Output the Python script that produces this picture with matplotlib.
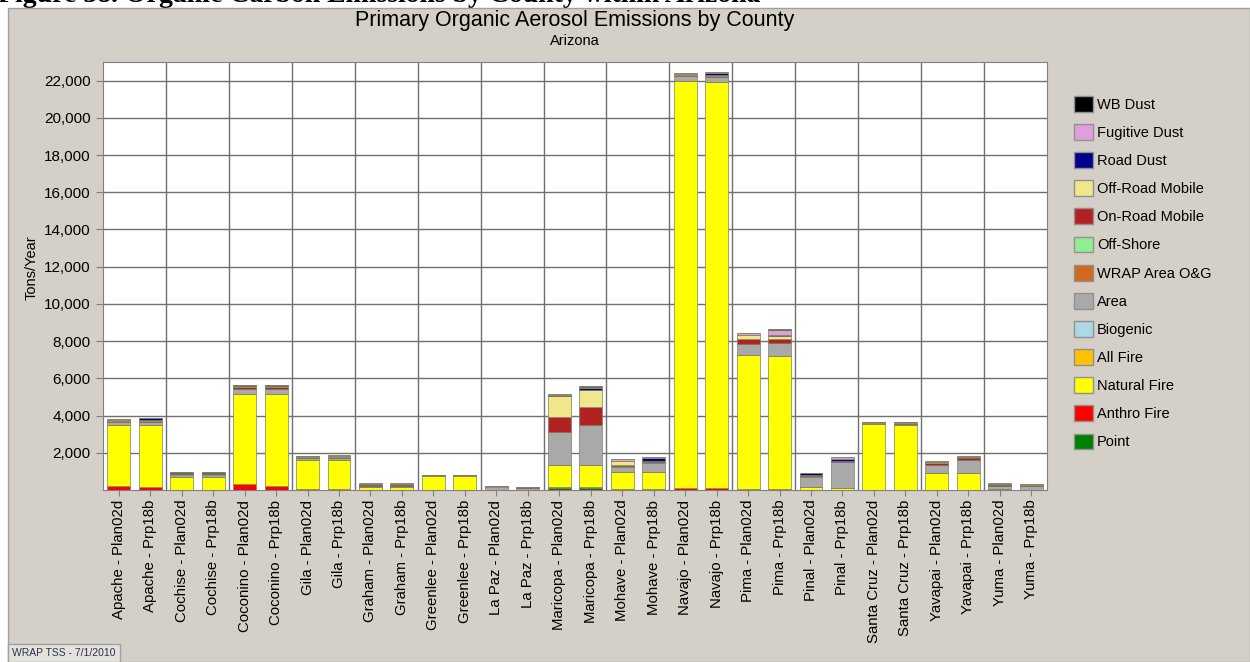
import matplotlib.pyplot as plt
import matplotlib.patches as mpatches
from matplotlib.ticker import FuncFormatter
import numpy as np

plt.rcParams['font.family'] = ['Liberation Sans', 'DejaVu Sans']

counties = ['Apache', 'Cochise', 'Coconino', 'Gila', 'Graham', 'Greenlee', 'La Paz',
            'Maricopa', 'Mohave', 'Navajo', 'Pima', 'Pinal', 'Santa Cruz', 'Yavapai', 'Yuma']
scenarios = ['Plan02d', 'Prp18b']
bar_labels = ['{} - {}'.format(c, s) for c in counties for s in scenarios]

# tons/year, two bars per county (Plan02d, Prp18b)
point = [0, 0, 0, 0, 0, 0, 0, 0, 0, 0, 0, 0, 0, 0, 100, 100,
         10, 10, 0, 0, 20, 20, 0, 0, 0, 0, 0, 0, 0, 0]
anthro_fire = [200, 150, 20, 20, 300, 200, 30, 30, 10, 10, 0, 0, 0, 0, 40, 40,
               20, 20, 100, 100, 40, 40, 20, 20, 20, 20, 20, 20, 10, 10]
natural_fire = [3300, 3350, 660, 660, 4860, 4960, 1580, 1580, 170, 170, 770, 770, 0, 0, 1220, 1220,
                920, 920, 21900, 21850, 7200, 7140, 150, 80, 3540, 3460, 880, 880, 40, 0]
all_fire = [0] * 30
biogenic = [0] * 30
area = [150, 170, 100, 100, 250, 250, 120, 120, 40, 40, 10, 10, 160, 130, 1740, 2130,
        300, 520, 250, 250, 570, 690, 550, 1420, 40, 40, 440, 710, 150, 200]
wrap_og = [10, 10, 10, 10, 20, 20, 10, 10, 5, 5, 0, 0, 0, 0, 20, 20,
           30, 30, 10, 10, 30, 30, 10, 10, 0, 0, 20, 20, 5, 5]
off_shore = [0] * 30
on_road = [60, 50, 40, 40, 120, 120, 50, 60, 40, 30, 10, 10, 20, 10, 790, 950,
           70, 80, 50, 50, 230, 170, 50, 30, 20, 100, 100, 80, 70, 40]
off_road = [40, 40, 20, 20, 50, 50, 20, 20, 10, 10, 5, 5, 10, 5, 1130, 940,
            200, 0, 40, 20, 240, 180, 20, 10, 10, 10, 30, 30, 20, 20]
road_dust = [20, 100, 60, 70, 20, 20, 10, 30, 50, 50, 0, 0, 0, 0, 80, 100,
             20, 150, 20, 150, 20, 40, 100, 80, 0, 20, 10, 20, 10, 0]
fugitive_dust = [20, 20, 20, 20, 30, 30, 10, 10, 50, 50, 0, 0, 30, 10, 40, 40,
                 80, 20, 50, 30, 100, 300, 20, 100, 0, 0, 80, 80, 80, 40]
wb_dust = [0, 0, 20, 20, 0, 0, 0, 0, 20, 20, 0, 0, 0, 0, 0, 40,
           0, 0, 0, 0, 0, 40, 20, 20, 0, 0, 0, 0, 0, 0]

# bottom to top
series = [
    ('Point', point, '#008000'),
    ('Anthro Fire', anthro_fire, '#ff0000'),
    ('Natural Fire', natural_fire, '#ffff00'),
    ('All Fire', all_fire, '#ffc000'),
    ('Biogenic', biogenic, '#add8e6'),
    ('Area', area, '#a9a9a9'),
    ('WRAP Area O&G', wrap_og, '#d2691e'),
    ('Off-Shore', off_shore, '#90ee90'),
    ('On-Road Mobile', on_road, '#b22222'),
    ('Off-Road Mobile', off_road, '#f0e68c'),
    ('Road Dust', road_dust, '#00008b'),
    ('Fugitive Dust', fugitive_dust, '#dda0dd'),
    ('WB Dust', wb_dust, '#000000'),
]

panel = '#d4d0c8'
fig = plt.figure(figsize=(12.5, 6.62), dpi=100)
fig.patch.set_facecolor('white')

# caption of the report page, mostly cut off at the top (as in the source screenshot)
fig.text(-2 / 1250, 1 - 2 / 662, 'Figure 38. Organic Carbon Emissions by County within Arizona',
         family=['Liberation Serif', 'DejaVu Serif'], fontweight='bold', fontsize=20,
         va='baseline', ha='left', color='black', zorder=0)
fig.patches.append(mpatches.Rectangle((8 / 1250, 0), 1 - 8 / 1250, 1 - 8 / 662,
                                      transform=fig.transFigure, facecolor=panel,
                                      edgecolor='#a0a0a0', linewidth=1, zorder=0.5))

ax = fig.add_axes([103 / 1250, 1 - 490 / 662, 944 / 1250, 428 / 662])
ax.set_zorder(2)
ax.set_facecolor('white')

x = np.arange(len(bar_labels))
bottom = np.zeros(len(bar_labels))
handles = []
for name, vals, color in series:
    vals = np.array(vals, dtype=float)
    ax.bar(x, vals, bottom=bottom, width=0.73, color=color,
           edgecolor='#808060', linewidth=0.5, zorder=3)
    bottom += vals
    handles.append(mpatches.Patch(facecolor=color, edgecolor='#909090', label=name))

ax.set_xlim(-0.5, len(bar_labels) - 0.5)
ax.set_ylim(0, 23000)
ax.set_yticks(np.arange(2000, 22001, 2000))
ax.yaxis.set_major_formatter(FuncFormatter(lambda v, p: '{:,.0f}'.format(v)))
ax.set_xticks(x)
ax.set_xticklabels(bar_labels, rotation=90, fontsize=10.8)
ax.tick_params(axis='y', labelsize=11, length=5, color='#808080', pad=4)
ax.tick_params(axis='x', length=4, color='#808080', pad=3)

# gridlines: horizontal at each tick, vertical between counties
for yv in np.arange(2000, 22001, 2000):
    ax.axhline(yv, color='#707070', linewidth=1, zorder=1)
for xv in np.arange(1.5, len(bar_labels) - 1, 2):
    ax.axvline(xv, color='#707070', linewidth=1, zorder=1)
for s in ax.spines.values():
    s.set_color('#808080')

ax.set_ylabel('Tons/Year', fontsize=10.5)
ax.yaxis.set_label_coords(-0.068, 0.52)
ax.set_title('Primary Organic Aerosol Emissions by County', fontsize=15.5, pad=26)
ax.text(0.5, 1.033, 'Arizona', transform=ax.transAxes, ha='center', va='bottom', fontsize=10.5)

leg = fig.legend(handles=handles[::-1], loc='upper left', bbox_to_anchor=(1068 / 1250, 1 - 90 / 662),
                 frameon=False, fontsize=10.5, handlelength=1.3, handleheight=1.3,
                 labelspacing=0.84, handletextpad=0.3, borderaxespad=0)
leg.set_zorder(3)

fig.text(12 / 1250, 4 / 662, 'WRAP TSS - 7/1/2010', fontsize=7.5, color='#303050',
         va='bottom', ha='left', zorder=3,
         bbox=dict(facecolor='#e4e2dc', edgecolor='#a0a0a0', boxstyle='square,pad=0.4'))

plt.savefig('out.png', dpi=100, facecolor=fig.get_facecolor())
